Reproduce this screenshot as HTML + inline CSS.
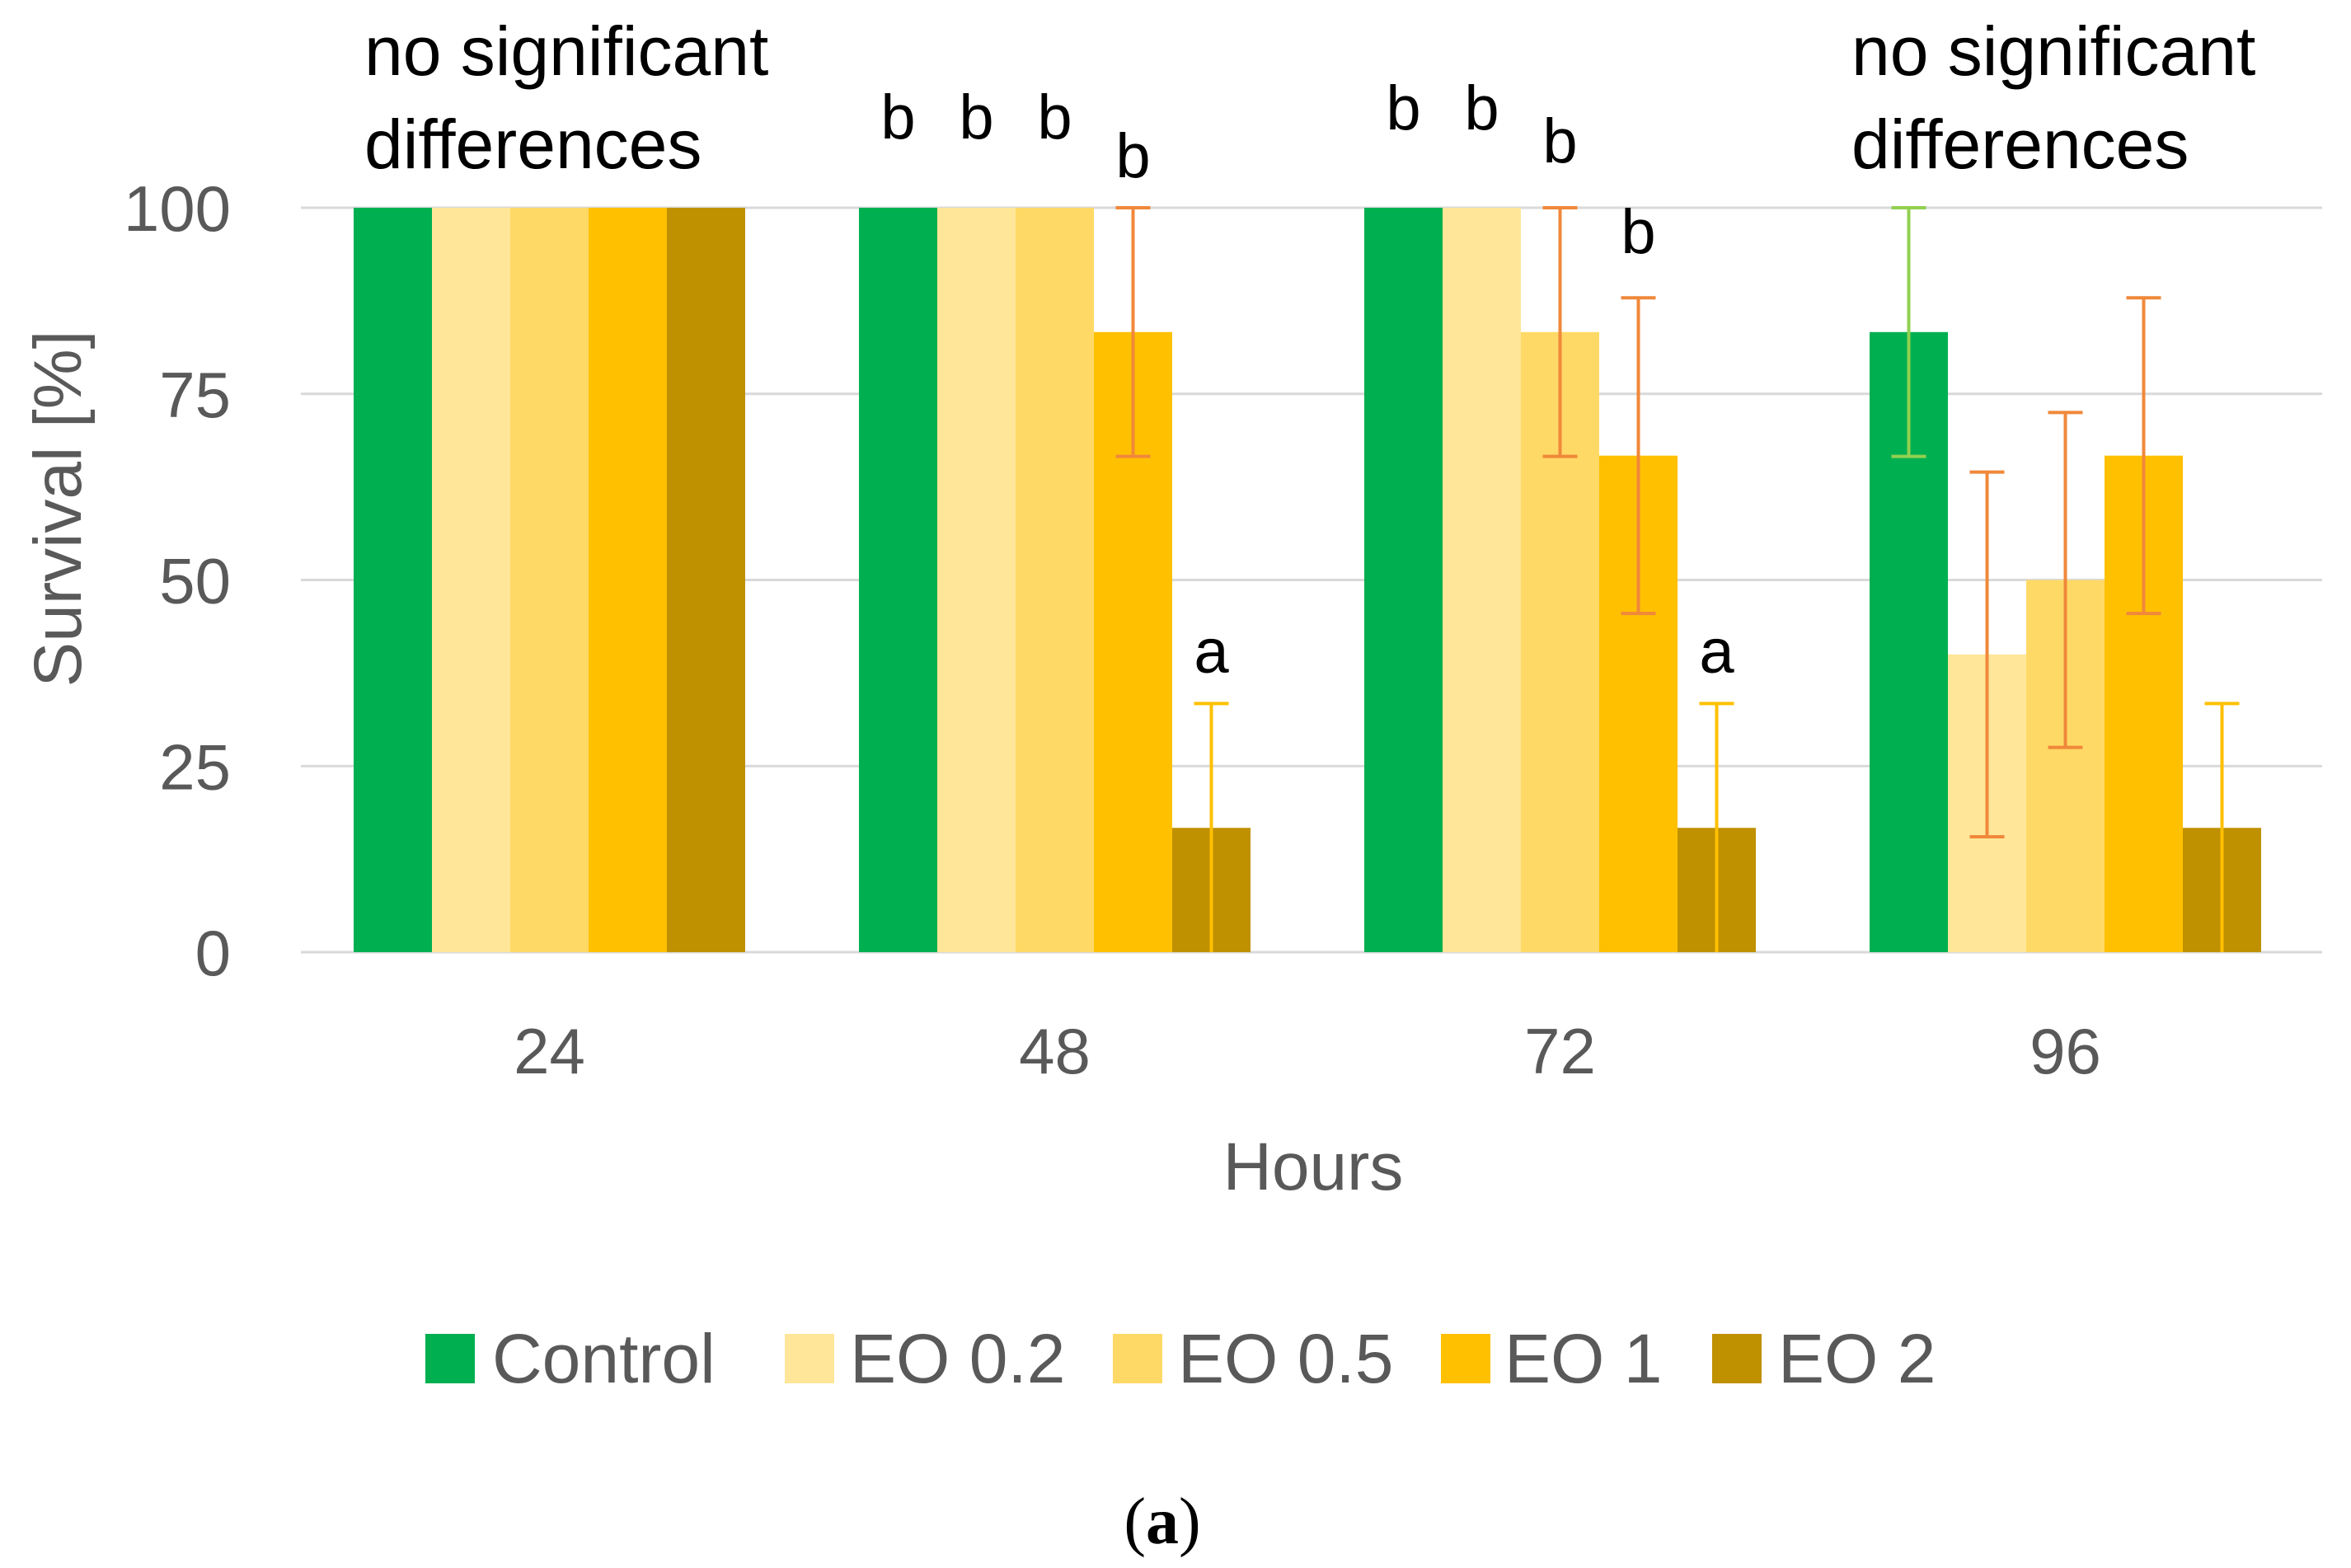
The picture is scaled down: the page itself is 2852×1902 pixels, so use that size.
<!DOCTYPE html>
<html><head><meta charset="utf-8"><style>
body{margin:0;background:#fff;}
svg{display:block;font-family:"Liberation Sans",sans-serif;}
</style></head><body>
<svg id="chart" width="2852" height="1902" viewBox="0 0 2852 1902"></svg>
<script>
const categories=["24","48","72","96"];
const seriesNames=["Control","EO 0.2","EO 0.5","EO 1","EO 2"];
const seriesColors=["#00b050","#ffe699","#ffd966","#ffc000","#bf9000"];
const errColors=["#92d050","#f0883a","#f0883a","#f0883a","#ffc000"];
const valControl=[100,100,100,83.3];
const valEO02=[100,100,100,40];
const valEO05=[100,100,83.3,50];
const valEO1=[100,83.3,66.7,66.7];
const valEO2=[100,16.7,16.7,16.7];
const errControl=[0,0,0,16.7];
const errEO02=[0,0,0,24.5];
const errEO05=[0,0,16.7,22.5];
const errEO1=[0,16.7,21.2,21.2];
const errEO2=[0,16.7,16.7,16.7];
const yTicks=[0,25,50,75,100];
const sigLetters=[[],["b","b","b","b","a"],["b","b","b","b","a"],[]];
const letterBaselines=[[],[168,168,168,215,816],[157,157,197,307,816],[]];

const values=[valControl,valEO02,valEO05,valEO1,valEO2];
const errs=[errControl,errEO02,errEO05,errEO1,errEO2];
const NS="http://www.w3.org/2000/svg";
const svg=document.getElementById("chart");
const L=360,R=2812,T=252,B=1155;
const catW=(R-L)/categories.length, barW=95;
const y=v=>B-(B-T)*v/100;
const xc=i=>L+catW*(i+0.5);
const bx=(i,s)=>xc(i)-barW*2.5+barW*s;
function mk(tag,attrs,txt){const e=document.createElementNS(NS,tag);for(const k in attrs)e.setAttribute(k,attrs[k]);if(txt!==undefined)e.textContent=txt;svg.appendChild(e);return e;}

yTicks.forEach(t=>{
  const g=mk("line",{x1:365,x2:R+5,y1:y(t),y2:y(t),stroke:"#d9d9d9","stroke-width":3});
  
  
  const lb=mk("text",{x:280,y:y(t)+28,"text-anchor":"end","font-size":78,fill:"#595959"},String(t));
  
  
});
categories.forEach((c,i)=>{
  const lb=mk("text",{x:xc(i),y:1302,"text-anchor":"middle","font-size":78,fill:"#595959"},c);
  
  
  values.forEach((vals,s)=>{
    const r=mk("rect",{x:bx(i,s),y:y(vals[i]),width:barW,height:B-y(vals[i]),fill:seriesColors[s]});
    
    
  });
});
categories.forEach((c,i)=>{
  values.forEach((vals,s)=>{
    const e=errs[s][i]; if(!e) return;
    const cx=bx(i,s)+barW/2, hi=Math.min(100,vals[i]+e), lo=Math.max(0,vals[i]-e);
    const g=mk("path",{d:`M${cx},${y(hi)}V${y(lo)}M${cx-21},${y(hi)}H${cx+21}`+(lo>0?`M${cx-21},${y(lo)}H${cx+21}`:""),stroke:errColors[s],"stroke-width":4,fill:"none"});
    
    
  });
  sigLetters[i].forEach((l,s)=>{
    const t=mk("text",{x:bx(i,s)+barW/2,y:letterBaselines[i][s],"text-anchor":"middle","font-size":76,fill:"#000"},l);
    
    
  });
});
[[442],[2246]].forEach(([x])=>{
  const t1=mk("text",{x:x,y:91,"font-size":84,fill:"#000"},"no significant");
  
  
  const t2=mk("text",{x:x,y:204,"font-size":84,fill:"#000"},"differences");
  
  
});
const xt=mk("text",{x:1593,y:1443,"text-anchor":"middle","font-size":82,fill:"#595959"},"Hours");


const yt=mk("text",{x:0,y:0,transform:"translate(98,617) rotate(-90)","text-anchor":"middle","font-size":82,fill:"#595959"},"Survival [%]");


const legSq=[516,952,1350,1748,2077], legTx=[597,1031,1429,1825,2157];
seriesNames.forEach((n,s)=>{
  const r=mk("rect",{x:legSq[s],y:1618,width:60,height:60,fill:seriesColors[s]});
  
  
  const t=mk("text",{x:legTx[s],y:1677,"font-size":84,fill:"#595959"},n);
  
  
});
const cap=mk("text",{x:1410,y:1872,"text-anchor":"middle","font-size":80,fill:"#000","font-family":"Liberation Serif, serif"});


cap.innerHTML='(<tspan font-weight="bold">a</tspan>)';
</script>
</body></html>
